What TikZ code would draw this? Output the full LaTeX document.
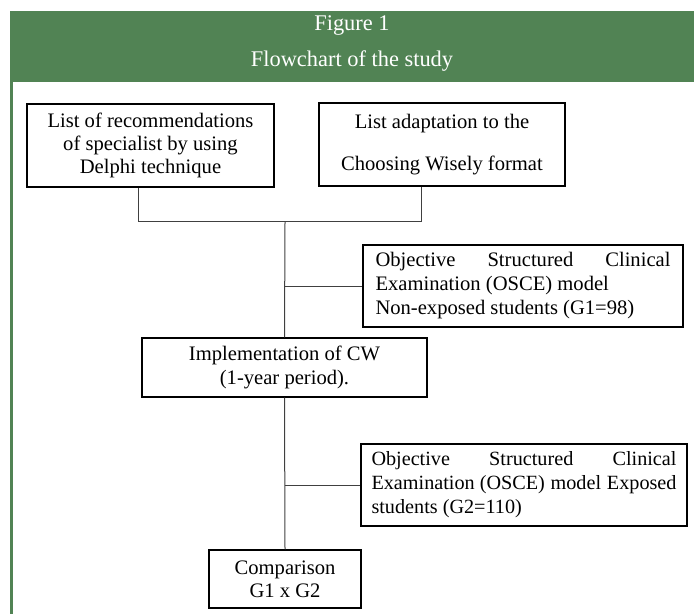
\documentclass[tikz,border=0pt]{standalone}
\usepackage{fontspec}
\setmainfont{Liberation Serif}
\definecolor{headgreen}{RGB}{81,131,84}
\definecolor{linegray}{RGB}{64,64,64}
\begin{document}
\begin{tikzpicture}[x=0.5pt,y=-0.5pt]
            \useasboundingbox (0,0) rectangle (694,614);
            \fill [headgreen] (10,11) rectangle (694,82);
            \fill [headgreen] (10,82) rectangle (12.5,614);

            \begin{scope}[every node/.style={text=white,font=\fontsize{11.2}{13}\selectfont}]
                \node (fig) at (352,26) {Figure 1};
                \node (title) at (352,61) {Flowchart of the study};
            \end{scope}

            \begin{scope}[every node/.style={draw,line width=0.6pt,inner sep=0pt,align=center,font=\fontsize{10.3}{11.6}\selectfont}]
                \node [minimum width=123.5pt,minimum height=41.5pt] (rec) at (150.5,145.5)
                    {List of recommendations\\of specialist by using\\Delphi technique};
                \node [minimum width=123pt,minimum height=41.5pt] (adapt) at (442,144.5)
                    {List adaptation to the\\[9.5pt]Choosing Wisely format};
                \node [minimum width=160pt,minimum height=41pt] (osceA) at (523,286)
                    {\parbox{147.5pt}{\baselineskip=12pt Objective\hfill Structured\hfill Clinical\\
                    Examination (OSCE) model\\Non-exposed students (G1=98)}};
                \node [minimum width=142.5pt,minimum height=29.5pt] (impl) at (284.5,367.5)
                    {Implementation of CW\\(1-year period).};
                \node [minimum width=163pt,minimum height=41pt] (osceB) at (524,485)
                    {\parbox{152.5pt}{\fontsize{10.1}{12}\selectfont Objective\hfill Structured\hfill Clinical\\
                    Examination (OSCE)\hfill model\hfill Exposed\\students (G2=110)}};
                \node [minimum width=76pt,minimum height=29pt] (comp) at (285,579)
                    {Comparison\\G1 x G2};
            \end{scope}

            \coordinate (jl) at (138,222);
            \coordinate (jm) at (285,222);
            \coordinate (jr) at (421,222);

            \begin{scope}[every path/.style={draw,linegray,line width=0.5pt}]
                \draw (rec.south -| jl) -- (jl) -- (jr) -- (adapt.south -| jr);
                \draw (jm) -- (impl.north);
                \draw (jm |- osceA.west) -- (osceA.west);
                \draw (impl.south) -- (comp.north);
                \draw (impl.south |- osceB.west) -- (osceB.west);
            \end{scope}
        \end{tikzpicture}
\end{document}
